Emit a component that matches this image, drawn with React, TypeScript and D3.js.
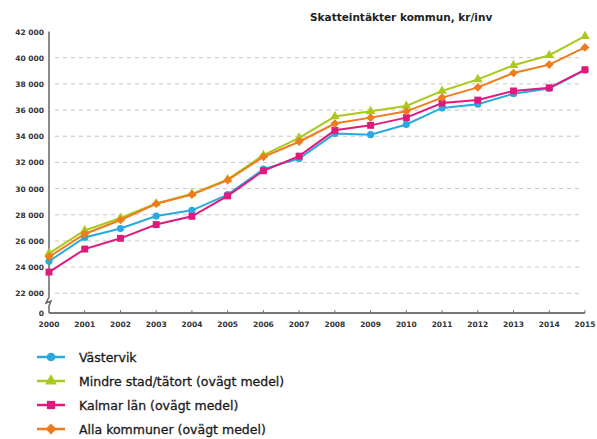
import React, { useEffect, useRef } from 'react'
import * as d3 from 'd3'

const years = [2000, 2001, 2002, 2003, 2004, 2005, 2006, 2007, 2008, 2009, 2010, 2011, 2012, 2013, 2014, 2015]
const vastervik = [24450, 26270, 26950, 27900, 28340, 29540, 31490, 32300, 34200, 34120, 34900, 36160, 36450, 37250, 37650, 39050]
const mindreStad = [25050, 26800, 27750, 28860, 29600, 30700, 32550, 33880, 35500, 35900, 36310, 37460, 38340, 39420, 40190, 41640]
const kalmarLan = [23620, 25380, 26200, 27250, 27880, 29440, 31360, 32480, 34450, 34830, 35420, 36540, 36760, 37460, 37700, 39080]
const allaKommuner = [24790, 26530, 27600, 28840, 29540, 30640, 32430, 33580, 34970, 35420, 35900, 36950, 37730, 38830, 39470, 40780]
const yTicks = [22000, 24000, 26000, 28000, 30000, 32000, 34000, 36000, 38000, 40000, 42000]
const gridTicks = [22000, 24000, 26000, 28000, 30000, 32000, 34000, 36000, 38000, 40000]

const series = [
    { name: 'Västervik', values: vastervik, color: '#2aa9de', symbol: d3.symbolCircle, size: 40, rot: 0 },
    { name: 'Mindre stad/tätort (ovägt medel)', values: mindreStad, color: '#a9c920', symbol: d3.symbolTriangle, size: 40, rot: 0 },
    { name: 'Kalmar län (ovägt medel)', values: kalmarLan, color: '#e2197c', symbol: d3.symbolSquare, size: 48, rot: 0 },
    { name: 'Alla kommuner (ovägt medel)', values: allaKommuner, color: '#f07a1c', symbol: d3.symbolSquare, size: 38, rot: 45 },
]

export default function App() {
    const ref = useRef<SVGSVGElement | null>(null)

    const width = 597
    const height = 439

    function draw() {
        const svg = d3.select(ref.current)
        svg.selectAll('*').remove()

        const x = d3.scaleLinear().domain([2000, 2015]).range([49, 585])
        const y = d3.scaleLinear().domain([22000, 42000]).range([293.3, 31.5])
        const axisY = 313
        const font = '"DejaVu Sans", Verdana, sans-serif'

        // title
        svg.append('text')
            .attr('x', 310).attr('y', 21)
            .attr('font-family', font).attr('font-size', 10.5).attr('font-weight', 'bold')
            .attr('fill', '#222')
            .text('Skatteintäkter kommun, kr/inv')

        // gridlines
        svg.append('g').selectAll('line')
            .data(gridTicks)
            .enter().append('line')
            .attr('x1', 55).attr('x2', 579)
            .attr('y1', d => y(d)).attr('y2', d => y(d))
            .attr('stroke', '#c4c4c4').attr('stroke-width', 1)
            .attr('stroke-dasharray', '4,4')

        // y labels
        svg.append('g').selectAll('text')
            .data(yTicks)
            .enter().append('text')
            .attr('x', 44).attr('y', d => y(d) + 3)
            .attr('text-anchor', 'end')
            .attr('font-family', font).attr('font-size', 7.5).attr('font-weight', 'bold')
            .attr('fill', '#333')
            .text(d => d3.format(',')(d).replace(',', ' '))
        svg.append('text')
            .attr('x', 44).attr('y', axisY + 3)
            .attr('text-anchor', 'end')
            .attr('font-family', font).attr('font-size', 7.5).attr('font-weight', 'bold')
            .attr('fill', '#333')
            .text('0')

        // y axis with break
        const ax = x(2000)
        svg.append('path')
            .attr('d', `M${ax},${y(42000)} L${ax},${297} L${ax - 3},${303} L${ax + 2},${301} L${ax},${306} L${ax},${axisY}`)
            .attr('fill', 'none').attr('stroke', '#666').attr('stroke-width', 1.5)

        // x axis
        svg.append('line')
            .attr('x1', ax).attr('x2', x(2015))
            .attr('y1', axisY).attr('y2', axisY)
            .attr('stroke', '#777').attr('stroke-width', 2)
        svg.append('g').selectAll('line')
            .data(years.slice(1))
            .enter().append('line')
            .attr('x1', d => x(d)).attr('x2', d => x(d))
            .attr('y1', axisY - 3).attr('y2', axisY)
            .attr('stroke', '#777').attr('stroke-width', 1)
        svg.append('g').selectAll('text')
            .data(years)
            .enter().append('text')
            .attr('x', d => x(d)).attr('y', axisY + 14)
            .attr('text-anchor', 'middle')
            .attr('font-family', font).attr('font-size', 7.5).attr('font-weight', 'bold')
            .attr('fill', '#333')
            .text(d => d)

        // series
        const line = d3.line<number>()
            .x((d, i) => x(years[i]))
            .y(d => y(d))

        series.forEach(s => {
            const g = svg.append('g')
            g.append('path')
                .attr('d', line(s.values))
                .attr('fill', 'none')
                .attr('stroke', s.color)
                .attr('stroke-width', 2)
            g.selectAll('path.m')
                .data(s.values)
                .enter().append('path')
                .attr('class', 'm')
                .attr('d', d3.symbol().type(s.symbol).size(s.size))
                .attr('transform', (d, i) => `translate(${x(years[i])},${y(d)}) rotate(${s.rot})`)
                .attr('fill', s.color)
        })

        // legend
        const legendY = [357, 381, 405, 429]
        series.forEach((s, i) => {
            const g = svg.append('g').attr('transform', `translate(0,${legendY[i]})`)
            g.append('line')
                .attr('x1', 37).attr('x2', 65)
                .attr('y1', 0).attr('y2', 0)
                .attr('stroke', s.color).attr('stroke-width', 2.5)
            g.append('path')
                .attr('d', d3.symbol().type(s.symbol).size(s.size + 20))
                .attr('transform', `translate(51,0) rotate(${s.rot})`)
                .attr('fill', s.color)
            g.append('text')
                .attr('x', 79).attr('y', 4.5)
                .attr('font-family', font).attr('font-size', 12.5)
                .attr('fill', '#1a1a1a')
                .attr('stroke', '#1a1a1a').attr('stroke-width', 0.3)
                .text(s.name)
        })
    }

    useEffect(() => {
        draw()
    }, [])

    return (
        <div>
            <svg ref={ref} width={width} height={height}
                style={{ position: 'absolute', left: 0, top: 0, background: '#fff' }} />
        </div>
    )
}
